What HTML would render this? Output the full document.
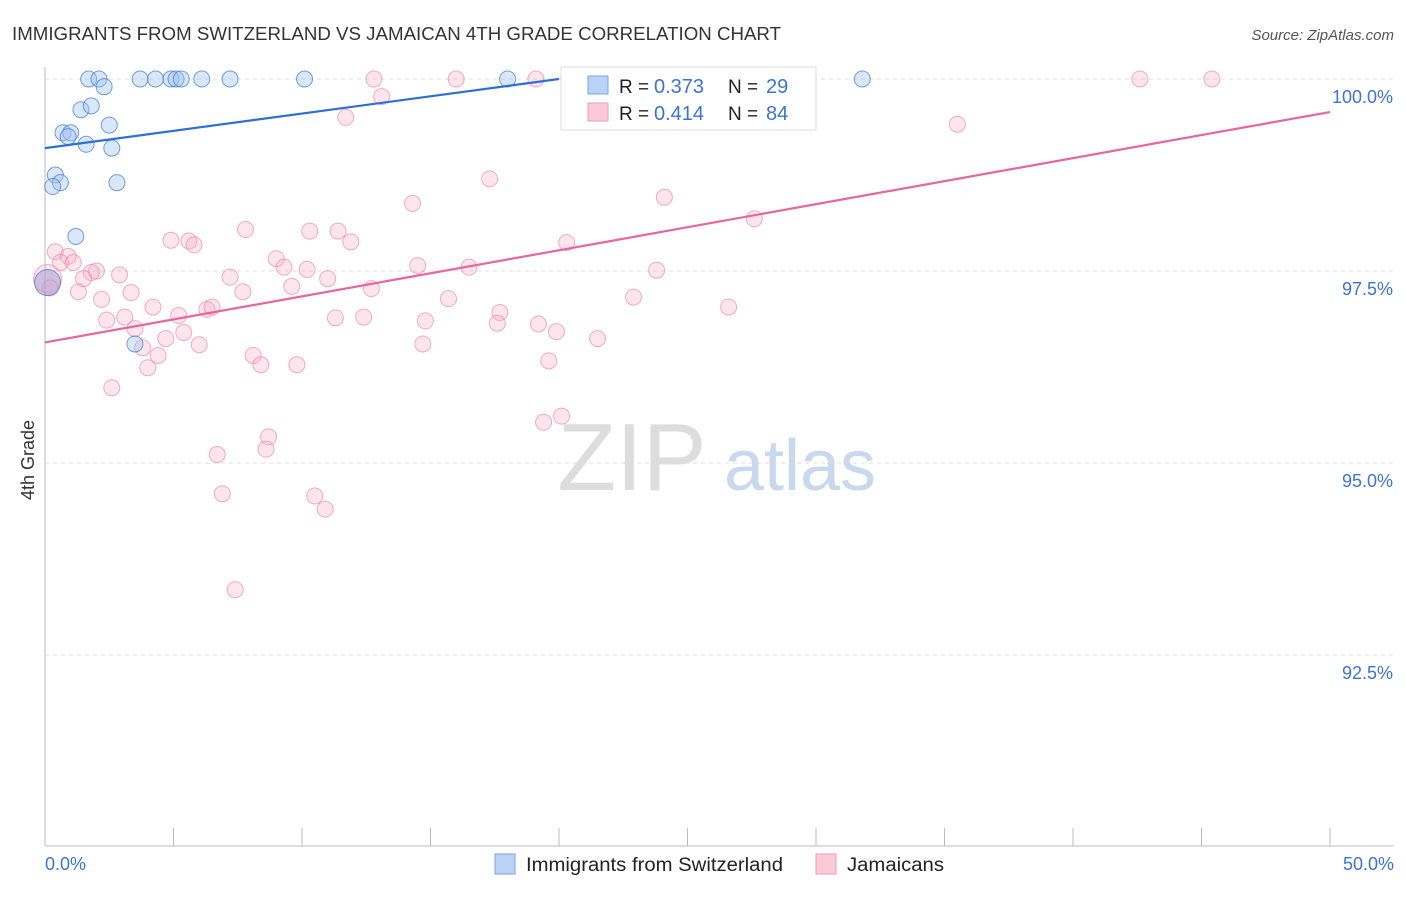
<!DOCTYPE html>
<html><head><meta charset="utf-8">
<style>
body{margin:0;background:#fff;font-family:"Liberation Sans",sans-serif;}
svg text{font-family:"Liberation Sans",sans-serif;}
</style></head>
<body>
<svg id="chart" width="1406" height="892" xmlns="http://www.w3.org/2000/svg">
<text x="12" y="40" font-size="18" fill="#333" textLength="769" lengthAdjust="spacingAndGlyphs">IMMIGRANTS FROM SWITZERLAND VS JAMAICAN 4TH GRADE CORRELATION CHART</text>
<text x="1394" y="40" font-size="15" fill="#555" text-anchor="end" font-style="italic">Source: ZipAtlas.com</text>
<text x="34" y="460" font-size="18" fill="#333" text-anchor="middle" transform="rotate(-90 34 460)">4th Grade</text>
<g>
<text x="632" y="490" font-size="96" fill="#ddd" font-family="Liberation Serif" text-anchor="middle">ZIP</text>
<text x="800" y="490" font-size="72" fill="#c8d8ee" text-anchor="middle">atlas</text>
</g>
<g id="grid"></g>
<g id="axes"></g>
<g id="pts"></g>
<g id="lines"></g>
<g>
<rect x="561" y="67" width="255" height="63" fill="#fff" stroke="#ddd"/>
<rect x="588" y="76" width="20" height="18" fill="#b9d2f5" stroke="#7aa6e6"/>
<text x="619" y="93" font-size="19" fill="#222">R =</text>
<text x="654" y="93" font-size="20" fill="#3b74d4">0.373</text>
<text x="728" y="93" font-size="19" fill="#222">N =</text>
<text x="766" y="93" font-size="20" fill="#3b74d4">29</text>
<rect x="588" y="103" width="20" height="18" fill="#fbc9d8" stroke="#ef9ab4"/>
<text x="619" y="120" font-size="19" fill="#222">R =</text>
<text x="654" y="120" font-size="20" fill="#3b74d4">0.414</text>
<text x="728" y="120" font-size="19" fill="#222">N =</text>
<text x="766" y="120" font-size="20" fill="#3b74d4">84</text>
</g>
<g>
<rect x="495" y="854" width="20" height="20" fill="#b9d2f5" stroke="#7aa6e6"/>
<text x="526" y="871" font-size="19" fill="#222" textLength="257" lengthAdjust="spacingAndGlyphs">Immigrants from Switzerland</text>
<rect x="816" y="854" width="20" height="20" fill="#fbc9d8" stroke="#ef9ab4"/>
<text x="847" y="871" font-size="19" fill="#222" textLength="97" lengthAdjust="spacingAndGlyphs">Jamaicans</text>
</g>
</svg>
<script>
const yTicks=[100,97.5,95,92.5];
const yTickLabels=["100.0%","97.5%","95.0%","92.5%"];
const xTickLabels=["0.0%","50.0%"];
const swissX=[1.7,2.1,2.3,3.7,4.3,4.9,5.1,5.3,6.1,7.2,10.1,18.0,24.9,31.8,1.4,1.8,0.7,1.0,0.9,1.6,2.5,2.6,0.4,0.6,0.3,2.8,1.2,3.5,0.1];
const swissY=[100,100,99.9,100,100,100,100,100,100,100,100,100,100,100,99.6,99.65,99.3,99.3,99.25,99.15,99.4,99.1,98.75,98.65,98.6,98.65,97.95,96.55,97.35];
const jamX=[12.8,16.0,19.1,26.5,42.6,45.4,13.1,11.7,35.5,17.3,14.3,24.1,27.6,7.8,10.3,11.4,4.9,5.6,5.8,11.9,20.3,0.4,0.9,0.6,1.1,2.0,1.8,1.5,2.9,7.2,9.0,9.3,10.2,11.0,14.5,16.5,23.8,3.35,1.3,2.2,7.7,9.6,12.7,15.7,22.9,4.2,6.3,6.5,26.6,17.7,2.4,3.1,5.2,11.3,12.4,14.8,17.6,19.2,3.5,5.4,4.7,19.9,21.5,3.8,6.0,14.7,4.4,8.1,4.0,8.4,9.8,19.6,2.6,20.1,19.4,8.7,8.6,6.7,6.9,10.5,10.9,7.4,0.1,0.2];
const jamY=[100,100,100,100,100,100,99.77,99.5,99.41,98.7,98.38,98.46,98.18,98.04,98.02,98.02,97.9,97.89,97.84,97.88,97.87,97.75,97.69,97.61,97.61,97.5,97.48,97.4,97.45,97.42,97.66,97.55,97.52,97.4,97.57,97.55,97.51,97.22,97.23,97.13,97.23,97.3,97.27,97.14,97.16,97.03,97.0,97.03,97.03,96.96,96.86,96.9,96.92,96.89,96.9,96.85,96.82,96.81,96.75,96.7,96.62,96.71,96.62,96.5,96.54,96.55,96.4,96.4,96.24,96.28,96.28,96.33,95.98,95.61,95.53,95.34,95.18,95.11,94.6,94.57,94.4,93.35,97.4,97.28];
const swissTrend=[0,99.1,20,100];
const jamTrend=[0,96.57,50,99.57];

const NS="http://www.w3.org/2000/svg";
const X0=45,X1=1330,Y100=79,PX=76.8;
function sx(v){return X0+(v/50)*(X1-X0);}
function sy(v){return Y100+(100-v)*PX;}
function mk(tag,attrs,parent){const e=document.createElementNS(NS,tag);for(const k in attrs)e.setAttribute(k,attrs[k]);parent.appendChild(e);return e;}
const grid=document.getElementById('grid'),axes=document.getElementById('axes'),pts=document.getElementById('pts'),lines=document.getElementById('lines');
yTicks.forEach((t,i)=>{
  const l=mk('line',{x1:X0,x2:1394,y1:sy(t),y2:sy(t),stroke:'#ddd','stroke-dasharray':'4,4'},grid);
  
  
  const tx=mk('text',{x:1393,y:sy(t)+24,'font-size':18,fill:'#3b74d4','text-anchor':'end'},axes);
  tx.textContent=yTickLabels[i];
  
  
});
const ax=mk('line',{x1:X0,x2:X0,y1:67,y2:846,stroke:'#bbb'},axes);


const bx=mk('line',{x1:X0,x2:1394,y1:846,y2:846,stroke:'#bbb'},axes);


for(let i=0;i<=10;i++){
  const tk=mk('line',{x1:sx(i*5),x2:sx(i*5),y1:828,y2:846,stroke:'#bbb'},axes);
  
  
}
const xl0=mk('text',{x:45,y:870,'font-size':18,fill:'#3b74d4'},axes);xl0.textContent=xTickLabels[0];


const xl1=mk('text',{x:1394,y:870,'font-size':18,fill:'#3b74d4','text-anchor':'end'},axes);xl1.textContent=xTickLabels[1];


jamX.forEach((v,i)=>{
  const big=i===jamX.length-2;
  const c=mk('circle',{cx:sx(v),cy:sy(jamY[i]),r:big?14:8,fill:'rgba(248,170,196,0.3)',stroke:'rgba(235,120,160,0.6)','stroke-width':1},pts);
  
  
});
swissX.forEach((v,i)=>{
  const big=i===swissX.length-1;
  const c=mk('circle',{cx:sx(v),cy:sy(swissY[i]),r:big?13:8,fill:big?'rgba(170,160,210,0.55)':'rgba(160,195,240,0.4)',stroke:'rgba(60,120,210,0.7)','stroke-width':1},pts);
  
  
});
const t1=mk('line',{x1:sx(swissTrend[0]),y1:sy(swissTrend[1]),x2:sx(swissTrend[2]),y2:sy(swissTrend[3]),stroke:'#2e6fd6','stroke-width':2.2},lines);


const t2=mk('line',{x1:sx(jamTrend[0]),y1:sy(jamTrend[1]),x2:sx(jamTrend[2]),y2:sy(jamTrend[3]),stroke:'#e8669a','stroke-width':2.2},lines);


</script>
</body></html>
